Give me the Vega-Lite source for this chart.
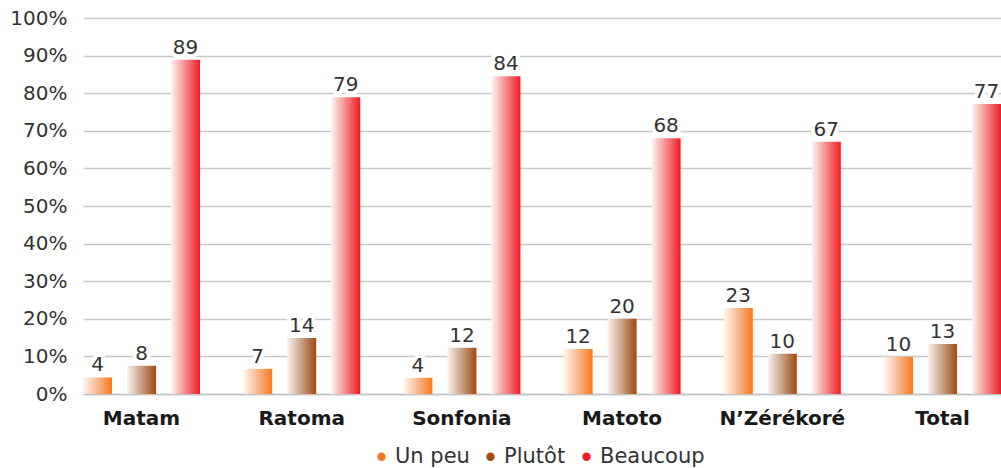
{
  "$schema": "https://vega.github.io/schema/vega-lite/v6.json",
  "width": 918,
  "height": 376,
  "autosize": "none",
  "padding": {"left": 83, "top": 18, "right": 0, "bottom": 74},
  "config": {"view": {"stroke": null}, "font": "DejaVu Sans"},
  "data": {
    "values": [
      {"region": "Matam", "series": "Un peu", "value": 4.4, "label": "4"},
      {"region": "Matam", "series": "Plutôt", "value": 7.5, "label": "8"},
      {"region": "Matam", "series": "Beaucoup", "value": 88.9, "label": "89"},
      {"region": "Ratoma", "series": "Un peu", "value": 6.7, "label": "7"},
      {"region": "Ratoma", "series": "Plutôt", "value": 14.9, "label": "14"},
      {"region": "Ratoma", "series": "Beaucoup", "value": 78.9, "label": "79"},
      {"region": "Sonfonia", "series": "Un peu", "value": 4.3, "label": "4"},
      {"region": "Sonfonia", "series": "Plutôt", "value": 12.3, "label": "12"},
      {"region": "Sonfonia", "series": "Beaucoup", "value": 84.5, "label": "84"},
      {"region": "Matoto", "series": "Un peu", "value": 12.0, "label": "12"},
      {"region": "Matoto", "series": "Plutôt", "value": 20.0, "label": "20"},
      {"region": "Matoto", "series": "Beaucoup", "value": 68.0, "label": "68"},
      {"region": "N’Zérékoré", "series": "Un peu", "value": 22.9, "label": "23"},
      {"region": "N’Zérékoré", "series": "Plutôt", "value": 10.7, "label": "10"},
      {"region": "N’Zérékoré", "series": "Beaucoup", "value": 67.1, "label": "67"},
      {"region": "Total", "series": "Un peu", "value": 9.9, "label": "10"},
      {"region": "Total", "series": "Plutôt", "value": 13.3, "label": "13"},
      {"region": "Total", "series": "Beaucoup", "value": 77.1, "label": "77"}
    ]
  },
  "encoding": {
    "x": {
      "field": "region", "type": "nominal",
      "sort": ["Matam", "Ratoma", "Sonfonia", "Matoto", "N’Zérékoré", "Total"],
      "scale": {"paddingInner": 0.2697, "paddingOuter": 0},
      "axis": {"title": null, "labelAngle": 0, "labelFont": "DejaVu Sans", "labelFontWeight": "bold", "labelFontSize": 20, "labelColor": "#1a1a1a", "ticks": false, "domainColor": "#c4c4c4", "domainWidth": 1.5, "labelPadding": 14}
    },
    "xOffset": {
      "field": "series", "type": "nominal",
      "sort": ["Un peu", "Plutôt", "Beaucoup"],
      "scale": {"domain": ["Un peu", "Plutôt", "Beaucoup"], "paddingInner": 0.341, "paddingOuter": 0}
    },
    "y": {
      "field": "value", "type": "quantitative",
      "scale": {"domain": [0, 100]},
      "axis": {"title": null, "values": [0, 10, 20, 30, 40, 50, 60, 70, 80, 90, 100], "labelExpr": "datum.value + '%'", "labelFontSize": 20, "labelColor": "#333333", "domain": false, "ticks": false, "gridColor": "#c8c8c8", "gridWidth": 1.5, "labelPadding": 16}
    }
  },
  "layer": [
    {
      "transform": [{"filter": "datum.series === 'Un peu'"}],
      "mark": {"type": "bar", "fill": {"gradient": "linear", "x1": 0, "y1": 0, "x2": 1, "y2": 0, "stops": [{"offset": 0, "color": "#fff6f0"}, {"offset": 1, "color": "#f47920"}]}}
    },
    {
      "transform": [{"filter": "datum.series === 'Plutôt'"}],
      "mark": {"type": "bar", "fill": {"gradient": "linear", "x1": 0, "y1": 0, "x2": 1, "y2": 0, "stops": [{"offset": 0, "color": "#f8f2ee"}, {"offset": 1, "color": "#9c4a16"}]}}
    },
    {
      "transform": [{"filter": "datum.series === 'Beaucoup'"}],
      "mark": {"type": "bar", "fill": {"gradient": "linear", "x1": 0, "y1": 0, "x2": 1, "y2": 0, "stops": [{"offset": 0, "color": "#fff4f0"}, {"offset": 1, "color": "#ee1c25"}]}}
    },
    {
      "mark": {"type": "text", "baseline": "alphabetic", "dy": -6, "fontSize": 20, "stroke": "white", "strokeWidth": 8, "strokeJoin": "round", "fill": "white"},
      "encoding": {"text": {"field": "label"}}
    },
    {
      "mark": {"type": "text", "baseline": "alphabetic", "dy": -6, "fontSize": 20, "fill": "#333333"},
      "encoding": {"text": {"field": "label"}}
    },
    {
      "mark": {"type": "point", "filled": true, "opacity": 0},
      "encoding": {
        "color": {
          "field": "series", "type": "nominal",
          "scale": {"domain": ["Un peu", "Plutôt", "Beaucoup"], "range": ["#f47920", "#9c4a16", "#ee1c25"]},
          "legend": {"orient": "none", "legendX": 288, "legendY": 428, "direction": "horizontal", "title": null, "symbolType": "circle", "symbolSize": 70, "symbolOpacity": 1, "labelFontSize": 21, "labelColor": "#333333", "labelFont": "DejaVu Sans", "columnPadding": 10, "labelOffset": 3}
        }
      }
    }
  ]
}
